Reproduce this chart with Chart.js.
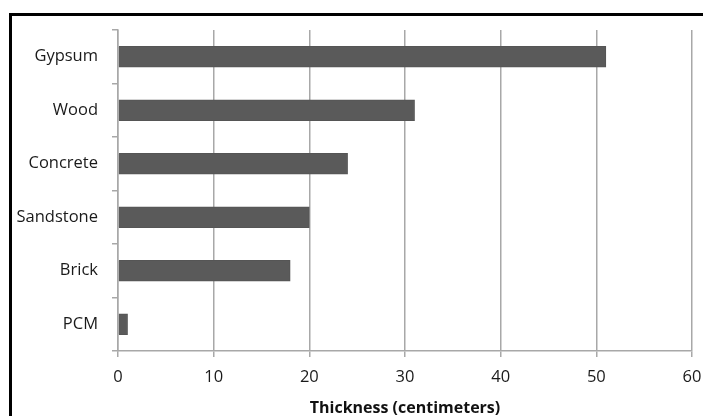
<!DOCTYPE html>
<html lang="en">
<head>
    <meta charset="UTF-8">
    <title>Thickness chart</title>
    <script src="https://cdn.jsdelivr.net/npm/chart.js"></script>
    <style>
        body { margin: 0; background: #fff; }
        #frame { position: absolute; left: 9px; top: 13px; width: 800px; height: 500px;
                 border-left: 3px solid #000; border-top: 3px solid #000; }
        #wrap { position: absolute; left: 0; top: 0; width: 703px; height: 416px; }
    </style>
</head>
<body>
    <div id="frame"></div>
    <div id="wrap"><canvas id="thicknessChart"></canvas></div>

    <script>
        // categories and values
        const materials = ['Gypsum', 'Wood', 'Concrete', 'Sandstone', 'Brick', 'PCM'];
        const thickness = [51, 31, 24, 20, 18, 1];
        const xTicks = [0, 10, 20, 30, 40, 50, 60];
        const axisTitle = 'Thickness (centimeters)';

        const fontFamily = '"Open Sans", sans-serif';
        const gridGray = '#a8a8a8';

        const ctx = document.getElementById('thicknessChart').getContext('2d');
        new Chart(ctx, {
            type: 'bar',
            data: {
                labels: materials,
                datasets: [{
                    data: thickness,
                    backgroundColor: '#5a5a5a',
                    borderColor: '#555555',
                    borderWidth: 1,
                    barThickness: 21
                }]
            },
            options: {
                indexAxis: 'y',
                responsive: true,
                maintainAspectRatio: false,
                animation: false,
                layout: { padding: { top: 30, right: 11, bottom: 0, left: 0 } },
                plugins: { legend: { display: false }, tooltip: { enabled: false } },
                scales: {
                    x: {
                        min: xTicks[0],
                        max: xTicks[xTicks.length - 1],
                        afterBuildTicks: (s) => { s.ticks = xTicks.map(v => ({ value: v })); },
                        // fixed axis box so the plot area lands where it does in the picture
                        afterFit: (s) => { s.height = 65; s.paddingLeft = 0; s.paddingRight = 0; },
                        grid: { color: gridGray, lineWidth: 1.5, tickLength: 6 },
                        border: { color: gridGray, width: 1.5 },
                        ticks: { color: '#1a1a1a', padding: 10, font: { family: fontFamily, size: 16.5 } },
                        title: {
                            display: true,
                            text: axisTitle,
                            color: '#111',
                            padding: { top: 13, bottom: -2 },
                            font: { family: fontFamily, size: 16, weight: 'bold' }
                        }
                    },
                    y: {
                        afterFit: (s) => { s.width = 118; },
                        grid: { offset: true, drawOnChartArea: false, color: gridGray, lineWidth: 1.5, tickLength: 6 },
                        border: { color: gridGray, width: 1.5 },
                        ticks: { color: '#1a1a1a', padding: 14, font: { family: fontFamily, size: 16.5 } }
                    }
                }
            }
        });
    </script>
</body>
</html>
